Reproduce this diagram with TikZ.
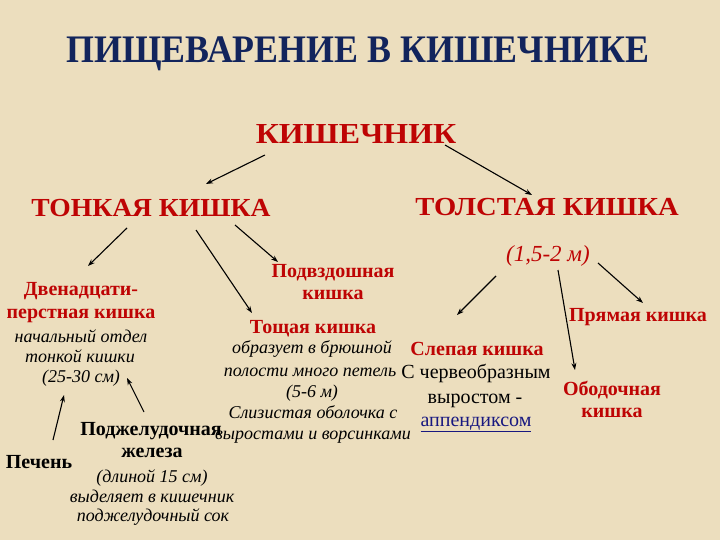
\documentclass[tikz,border=0pt]{standalone}
\usepackage{fontspec}
\usepackage{graphicx}
\setmainfont{Liberation Serif}
\usetikzlibrary{arrows.meta}
\definecolor{bg}{RGB}{236,222,190}
\definecolor{hred}{RGB}{190,4,4}
\definecolor{navy}{RGB}{18,36,92}
\definecolor{lnk}{RGB}{24,24,128}
\begin{document}
\begin{tikzpicture}[x=1pt,y=-1pt,
  every node/.style={inner sep=0pt, anchor=base},
  ttl/.style={font=\fontsize{39}{41}\selectfont\bfseries, text=navy},
  big/.style={font=\fontsize{29}{31}\selectfont\bfseries, text=hred},
  mid/.style={font=\fontsize{26}{28}\selectfont\bfseries, text=hred},
  sub/.style={font=\fontsize{20}{22}\selectfont\bfseries, text=hred},
  itx/.style={font=\fontsize{18}{20}\selectfont\itshape, text=black},
  itr/.style={font=\fontsize{23}{25}\selectfont\itshape, text=hred},
  rmx/.style={font=\fontsize{20}{22}\selectfont, text=black},
  bbx/.style={font=\fontsize{20}{22}\selectfont\bfseries, text=black},
  arr/.style={-{Stealth[length=7pt,width=5pt]}, line width=1.1pt, black}
]
\fill[bg] (0,0) rectangle (720,540);
\useasboundingbox (0,0) rectangle (720,540);

\node[ttl] (title) at (358,63) {\scalebox{0.92}[1]{ПИЩЕВАРЕНИЕ В КИШЕЧНИКЕ}};
\node[big] (kish) at (356,144) {\scalebox{1.1}[1]{КИШЕЧНИК}};
\node[mid] (tonk) at (151,217) {\scalebox{1.06}[1]{ТОНКАЯ КИШКА}};
\node[mid] (tolst) at (547,215) {\scalebox{1.1}[1]{ТОЛСТАЯ КИШКА}};
\node[itr] (len) at (548,261) {(1,5-2 м)};

\node[sub] (duo1) at (81,295) {Двенадцати-};
\node[sub] (duo2) at (81,318) {перстная кишка};
\node[itx] (duo3) at (81,342) {начальный отдел};
\node[itx] (duo4) at (80,362) {тонкой кишки};
\node[itx] (duo5) at (81,382) {(25-30 см)};

\node[sub] (ile1) at (333,277) {Подвздошная};
\node[sub] (ile2) at (333,299) {кишка};

\node[sub] (jej1) at (313,333) {Тощая кишка};
\node[itx] (jej2) at (312,353) {образует в брюшной};
\node[itx] (jej3) at (310,376) {полости много петель};
\node[itx] (jej4) at (312,397) {(5-6 м)};
\node[itx] (jej5) at (313,418) {Слизистая оболочка с};
\node[itx] (jej6) at (313,439) {выростами и ворсинками};

\node[sub] (cec1) at (477,355) {Слепая кишка};
\node[rmx] (cec2) at (476,378) {С червеобразным};
\node[rmx] (cec3) at (475,403) {выростом -};
\node[rmx, text=lnk] (cec4) at (476,426) {\underline{аппендиксом}};

\node[sub] (rect) at (638,321) {Прямая кишка};
\node[sub] (col1) at (612,395) {Ободочная};
\node[sub] (col2) at (612,417) {кишка};

\node[bbx] (pan1) at (151,435) {Поджелудочная};
\node[bbx] (pan2) at (152,457) {железа};
\node[itx] (pan3) at (152,482) {(длиной 15 см)};
\node[itx] (pan4) at (152,502) {выделяет в кишечник};
\node[itx] (pan5) at (153,521) {поджелудочный сок};

\node[bbx] (liver) at (39,468) {Печень};

% arrow end points
\coordinate (a1s) at (265,155); \coordinate (a1e) at (206,184);
\coordinate (a2s) at (445,145); \coordinate (a2e) at (532,195);
\coordinate (a3s) at (127,228); \coordinate (a3e) at (88,266);
\coordinate (a4s) at (196,230); \coordinate (a4e) at (252,313);
\coordinate (a5s) at (235,225); \coordinate (a5e) at (278,262);
\coordinate (a6s) at (496,276); \coordinate (a6e) at (457,315);
\coordinate (a7s) at (558,270); \coordinate (a7e) at (575,370);
\coordinate (a8s) at (598,263); \coordinate (a8e) at (643,303);
\coordinate (a9s) at (144,412); \coordinate (a9e) at (127,378);
\coordinate (a10s) at (53,440); \coordinate (a10e) at (64,395);

\draw[arr] (a1s) -- (a1e);
\draw[arr] (a2s) -- (a2e);
\draw[arr] (a3s) -- (a3e);
\draw[arr] (a4s) -- (a4e);
\draw[arr] (a5s) -- (a5e);
\draw[arr] (a6s) -- (a6e);
\draw[arr] (a7s) -- (a7e);
\draw[arr] (a8s) -- (a8e);
\draw[arr] (a9s) -- (a9e);
\draw[arr] (a10s) -- (a10e);
\end{tikzpicture}
\end{document}
